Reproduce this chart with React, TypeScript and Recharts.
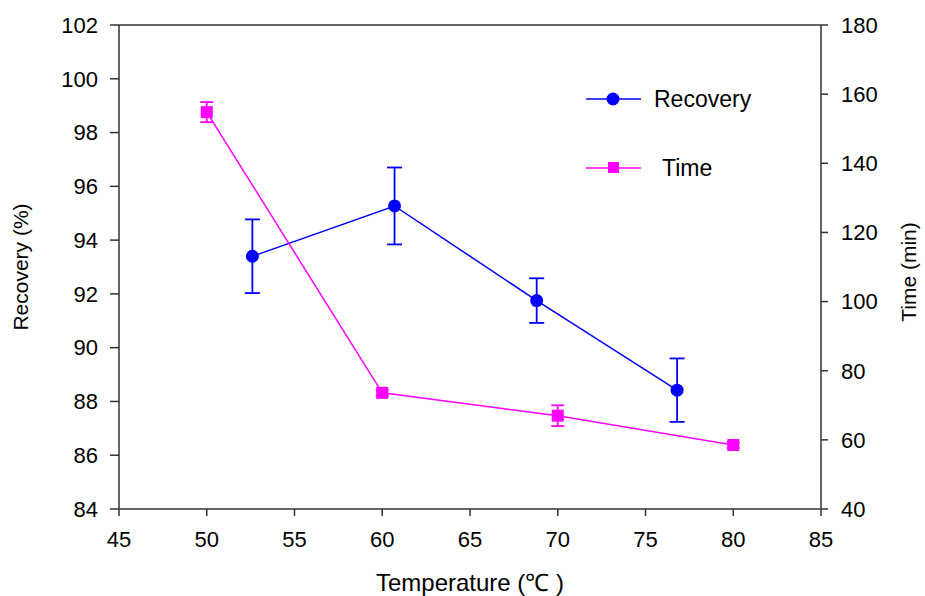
import { ComposedChart, Line, XAxis, YAxis, ErrorBar, ReferenceLine } from 'recharts'

const recoveryTemps = [52.6, 60.7, 68.8, 76.8]
const recoveryValues = [93.4, 95.27, 91.75, 88.42]
const recoveryErrors = [1.37, 1.43, 0.83, 1.18]

const timeTemps = [50, 60, 70, 80]
const timeValues = [154.8, 73.6, 67.0, 58.5]
const timeErrors = [2.9, 0.8, 3.0, 0.8]

const xTicks = [45, 50, 55, 60, 65, 70, 75, 80, 85]
const leftTicks = [84, 86, 88, 90, 92, 94, 96, 98, 100, 102]
const rightTicks = [40, 60, 80, 100, 120, 140, 160, 180]

const BLUE = '#0000ff'
const MAGENTA = '#ff00ff'
const AXIS = '#333333'
const FONT = '"Liberation Sans", Arial, sans-serif'

const recoveryData = recoveryTemps.map((x, i) => ({ x, recovery: recoveryValues[i], err: recoveryErrors[i] }))
const timeData = timeTemps.map((x, i) => ({ x, time: timeValues[i], err: timeErrors[i] }))

const tickStyle = { fill: '#000', fontSize: 22, fontFamily: FONT }

function SquareDot(props: any) {
  const { cx, cy, index } = props
  if (cx == null || cy == null) return null
  return <rect key={index} x={cx - 6} y={cy - 6} width={12} height={12} fill={MAGENTA} />
}

// legend drawn on top of the chart, like the boxed-in legend of the original
function LegendBox() {
  return (
    <svg
      width={200}
      height={110}
      style={{ position: 'absolute', left: 580, top: 80, fontFamily: FONT }}
    >
      <line x1={6} y1={19} x2={61} y2={19} stroke={BLUE} strokeWidth={1.5} />
      <circle cx={33} cy={19} r={6.5} fill={BLUE} />
      <text x={74} y={19} dominantBaseline="central" fontSize={23} fill="#000">Recovery</text>
      <line x1={6} y1={88} x2={61} y2={88} stroke={MAGENTA} strokeWidth={1.5} />
      <rect x={28} y={82} width={11} height={11} fill={MAGENTA} />
      <text x={82} y={88} dominantBaseline="central" fontSize={23} fill="#000">Time</text>
    </svg>
  )
}

export default function App() {
  return (
    <div style={{ position: 'absolute', left: 0, top: 0, width: 925, height: 596, background: '#fff' }}>
      <ComposedChart width={925} height={596} margin={{ top: 25, right: 0, bottom: 0, left: 0 }}>
        <XAxis
          type="number"
          dataKey="x"
          domain={[45, 85]}
          ticks={xTicks}
          allowDataOverflow
          height={87}
          tickSize={7}
          tickMargin={15}
          tick={tickStyle}
          stroke={AXIS}
          strokeWidth={1.5}
          label={{
            content: () => (
              <text x={470} y={582} textAnchor="middle" dominantBaseline="central" fontSize={24} fontFamily={FONT} fill="#000">
                Temperature (℃ )
              </text>
            ),
          }}
        />
        <YAxis
          yAxisId="left"
          domain={[84, 102]}
          ticks={leftTicks}
          allowDataOverflow
          width={119}
          tickSize={9}
          tickMargin={12}
          tick={tickStyle}
          stroke={AXIS}
          strokeWidth={1.5}
          label={{
            content: () => (
              <text
                x={20}
                y={267}
                transform="rotate(-90, 20, 267)"
                textAnchor="middle"
                dominantBaseline="central"
                fontSize={21}
                fontFamily={FONT}
                fill="#000"
              >
                Recovery (%)
              </text>
            ),
          }}
        />
        <YAxis
          yAxisId="right"
          orientation="right"
          domain={[40, 180]}
          ticks={rightTicks}
          allowDataOverflow
          width={104}
          tickSize={7}
          tickMargin={13}
          tick={tickStyle}
          stroke={AXIS}
          strokeWidth={1.5}
          label={{
            content: () => (
              <text
                x={908}
                y={272}
                transform="rotate(-90, 908, 272)"
                textAnchor="middle"
                dominantBaseline="central"
                fontSize={21}
                fontFamily={FONT}
                fill="#000"
              >
                Time (min)
              </text>
            ),
          }}
        />
        <ReferenceLine yAxisId="left" y={102} stroke={AXIS} strokeWidth={1.5} ifOverflow="visible" />
        <Line
          yAxisId="left"
          data={recoveryData}
          dataKey="recovery"
          name="Recovery"
          type="linear"
          stroke={BLUE}
          strokeWidth={1.5}
          dot={{ r: 6.5, fill: BLUE, stroke: BLUE, strokeWidth: 0 }}
          activeDot={false}
          isAnimationActive={false}
        >
          <ErrorBar dataKey="err" direction="y" width={7.5} stroke={BLUE} strokeWidth={1.8} />
        </Line>
        <Line
          yAxisId="right"
          data={timeData}
          dataKey="time"
          name="Time"
          type="linear"
          stroke={MAGENTA}
          strokeWidth={1.5}
          dot={<SquareDot />}
          activeDot={false}
          isAnimationActive={false}
        >
          <ErrorBar dataKey="err" direction="y" width={6.5} stroke={MAGENTA} strokeWidth={1.8} />
        </Line>
      </ComposedChart>
      <LegendBox />
    </div>
  )
}
